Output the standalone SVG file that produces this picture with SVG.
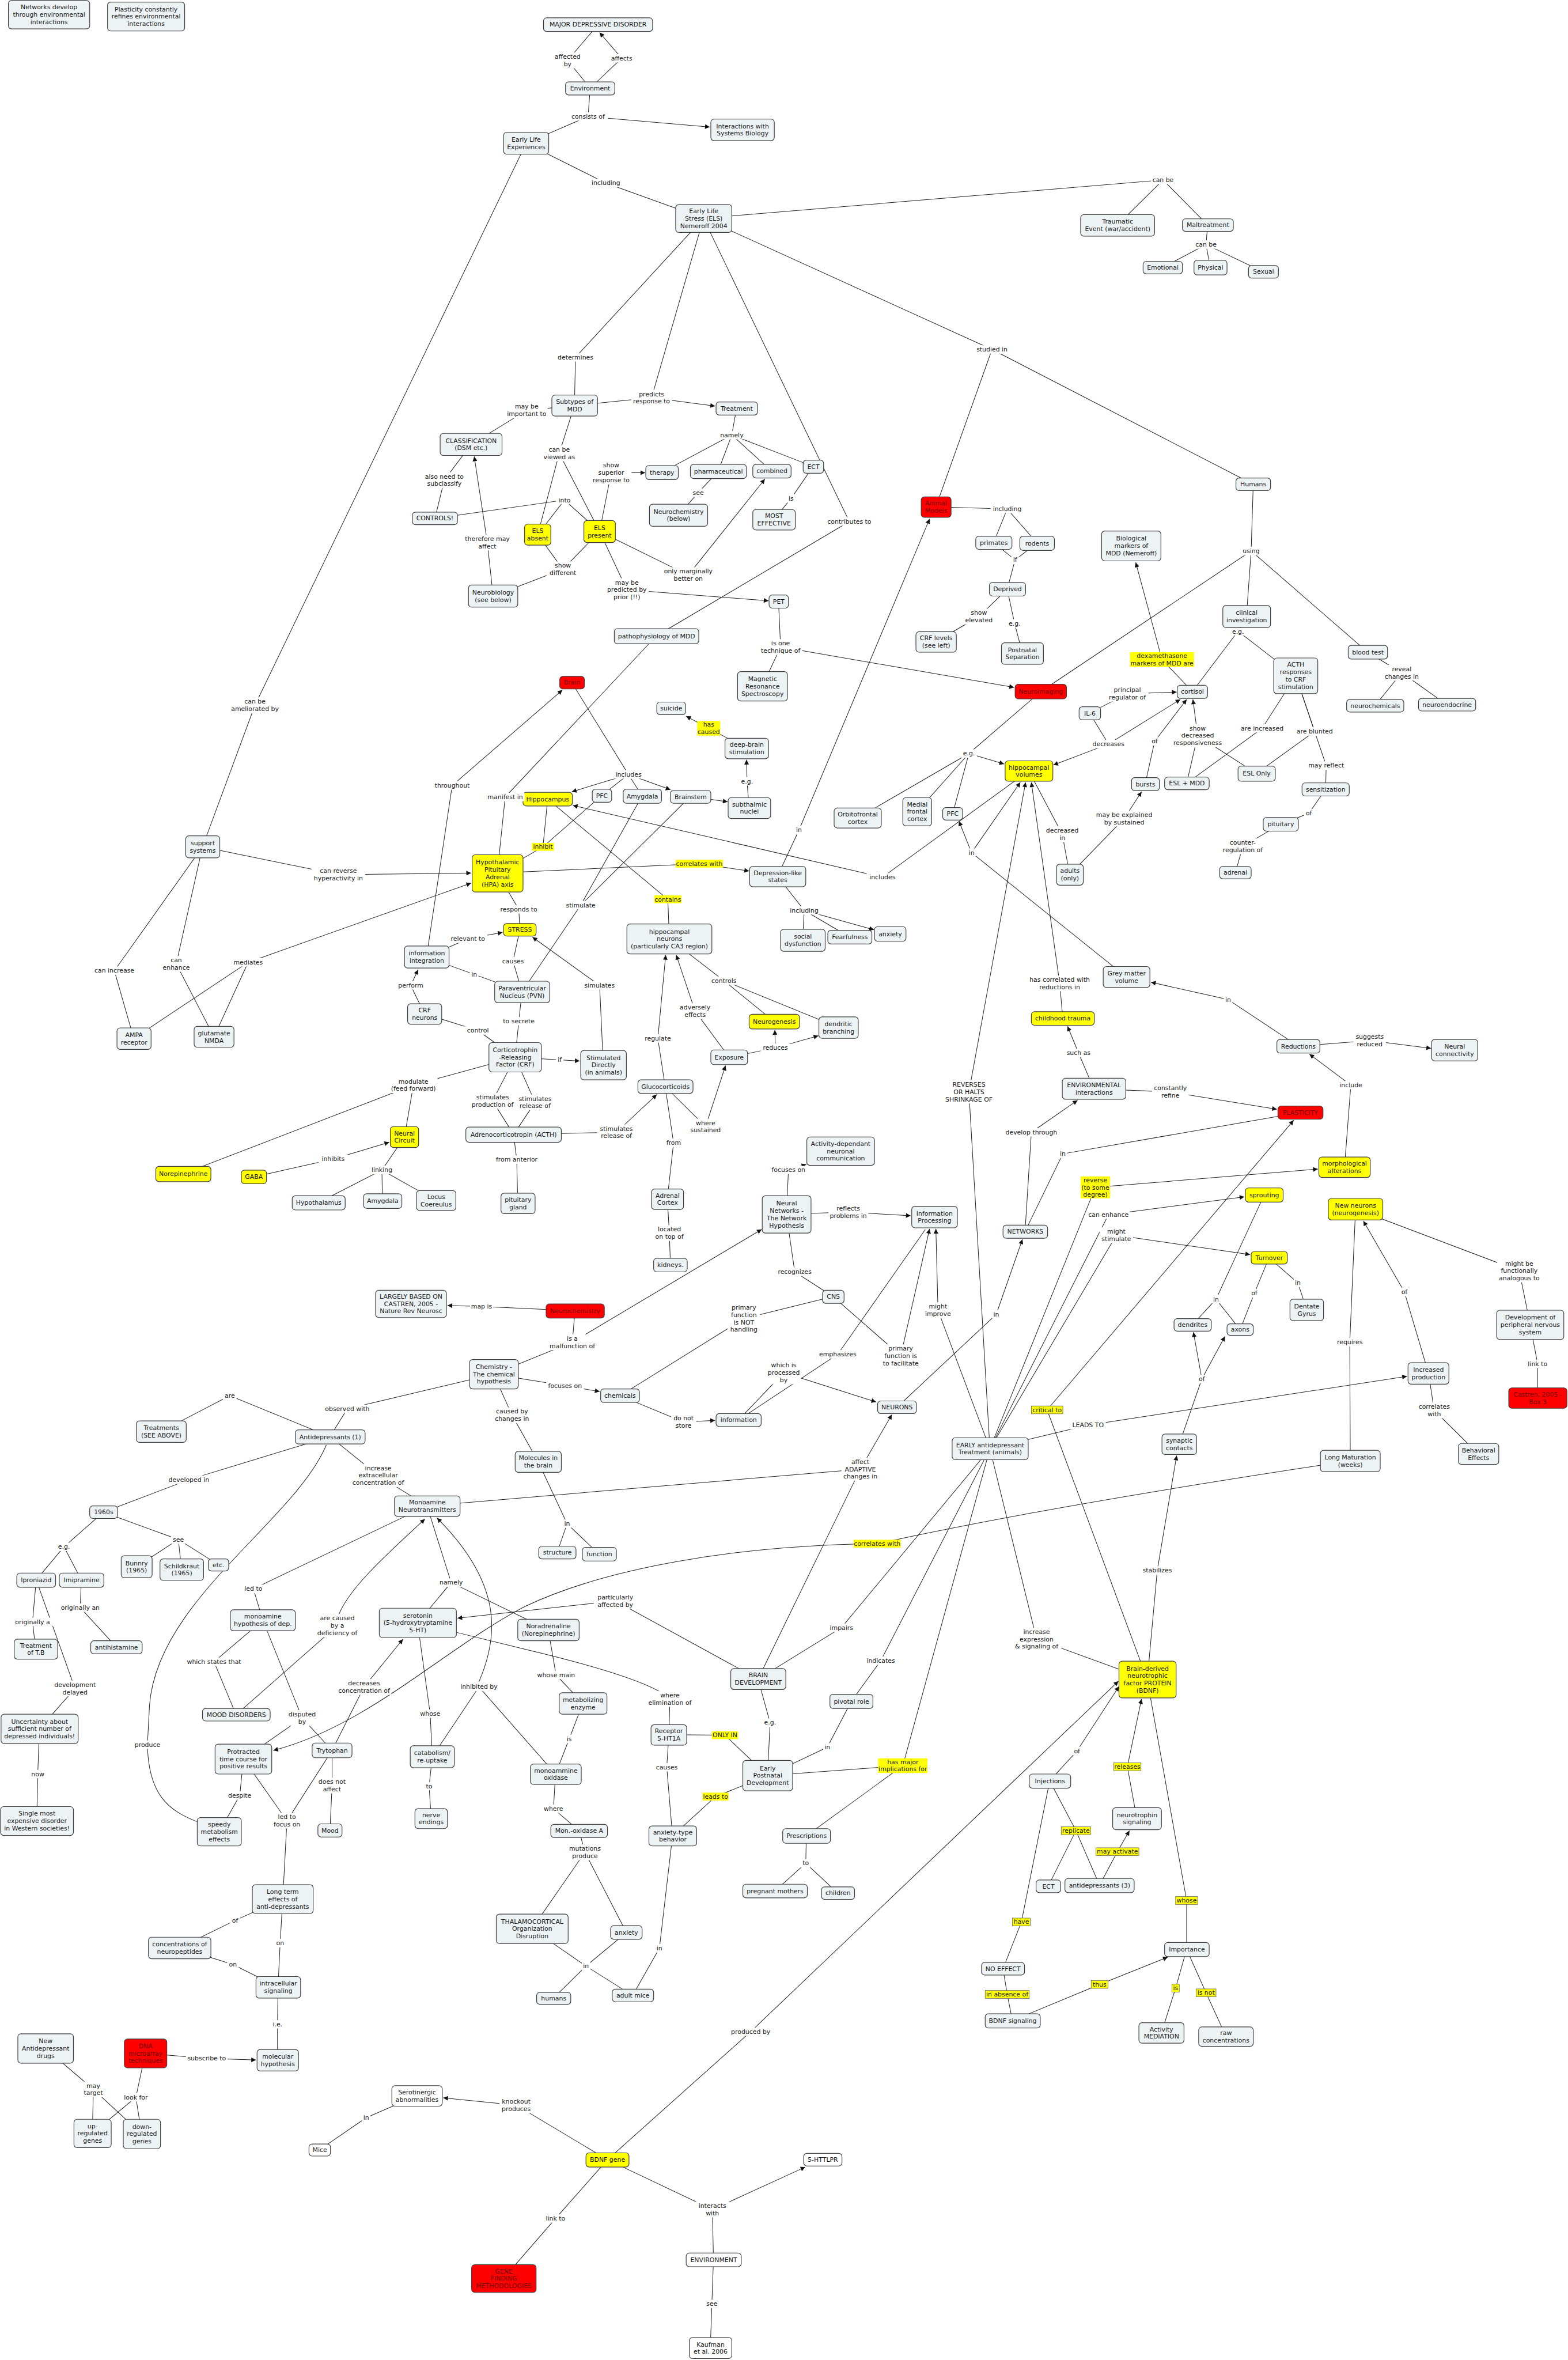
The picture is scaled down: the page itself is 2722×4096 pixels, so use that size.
<svg xmlns="http://www.w3.org/2000/svg" width="2722" height="4096" viewBox="0 0 2722 4096">
<defs>
<marker id="a" viewBox="0 0 10 10" refX="10" refY="5" markerWidth="11" markerHeight="9" markerUnits="userSpaceOnUse" orient="auto"><path d="M0,0L10,5L0,10z" fill="#111"/></marker>
<style>
.c path{stroke:#1e1e1e;stroke-width:1.1;fill:none}
.c .ar{marker-end:url(#a)}
.n rect{fill:#edf3f5;stroke:#3c3c3c;stroke-width:1.3}
.y rect{fill:#ffff00}
.r rect{fill:#ff0000}
.w rect{fill:#ffffff}
text{font-family:"DejaVu Sans",Verdana,sans-serif;font-size:12px;fill:#141414;text-anchor:middle}
.r text{fill:#6e0000}
.l rect{fill:#ffffff}
.ly rect{fill:#ffff00}
.lb rect{fill:#ffff00;stroke:#555;stroke-width:0.8}
</style>
</defs>
<rect width="2722" height="4096" fill="#fff"/>
<g transform="scale(0.91068)">
<g id="connectors" class="c">
<path d="M1140,47L1082,115L1125,168"/>
<path d="M1125,168L1185,111"/><path class="ar" d="M1185,111L1143,62"/>
<path d="M1125,168L1121,222L1003,273"/><path class="ar" d="M1121,222L1353,242"/>
<path d="M1003,273L1155,349L1341,416"/>
<path d="M1341,416L2217,343L2130,429M2217,343L2302,429"/>
<path d="M2302,429L2299,466L2216,510M2299,466L2307,510M2299,466L2408,518"/>
<path d="M1341,416L1097,681L1095,773"/>
<path d="M1341,416L1242,758M1095,773L1242,758"/><path class="ar" d="M1242,758L1363,774"/>
<path d="M1341,416L1619,994L1251,1212"/>
<path d="M1341,416L1891,666L2389,923M1891,666L1784,966"/>
<path d="M1482,1670L1523,1582"/><path class="ar" d="M1523,1582L1772,989"/>
<path d="M1095,773L1066,864L1025,1019M1066,864L1143,1013"/>
<path d="M1095,773L1004,782L898,847"/>
<path d="M898,847L847,915L829,988"/>
<path d="M829,988L1076,953L1025,1019M1076,953L1143,1013"/>
<path d="M1025,1019L1073,1085L940,1136M1143,1013L1073,1085"/>
<path d="M940,1136L929,1034"/><path class="ar" d="M929,1034L904,870"/>
<path d="M1143,1013L1165,901"/><path class="ar" d="M1165,901L1230,901"/>
<path d="M1143,1013L1195,1124"/><path class="ar" d="M1195,1124L1465,1145"/>
<path d="M1143,1013L1312,1096"/><path class="ar" d="M1312,1096L1458,913"/>
<path d="M1404,778L1395,829L1262,900M1395,829L1369,898M1395,829L1471,898M1395,829L1550,889"/>
<path d="M1369,898L1331,939L1293,982"/>
<path d="M1550,889L1508,950L1475,990"/>
<path d="M1784,966L1920,970L1894,1034M1920,970L1977,1035"/>
<path d="M1894,1034L1935,1067L1920,1123M1977,1035L1935,1067"/>
<path d="M1920,1123L1866,1175L1784,1223"/>
<path d="M1920,1123L1934,1188L1949,1245"/>
<path d="M2389,923L2385,1050L1984,1318M2385,1050L2376,1175M2385,1050L2607,1243"/>
<path d="M2376,1175L2360,1203L2273,1318M2360,1203L2470,1288"/>
<path d="M2607,1243L2672,1282L2621,1345M2672,1282L2758,1343"/>
<path d="M2273,1318L2215,1257"/><path class="ar" d="M2215,1257L2165,1072"/>
<path d="M2077,1359L2149,1322"/><path class="ar" d="M2149,1322L2243,1319"/>
<path d="M2077,1359L2113,1418"/><path class="ar" d="M2113,1418L2250,1333"/><path class="ar" d="M2113,1418L2008,1458"/>
<path d="M2183,1494L2201,1413"/><path class="ar" d="M2201,1413L2262,1333"/>
<path d="M2262,1493L2283,1402M2395,1474L2283,1402"/><path class="ar" d="M2283,1402L2274,1333"/>
<path d="M2470,1288L2406,1388L2262,1493"/>
<path d="M2470,1288L2506,1394L2395,1474"/>
<path d="M2470,1288L2528,1459L2527,1504"/>
<path d="M2527,1504L2495,1550L2441,1571"/>
<path d="M2441,1571L2369,1613L2355,1663"/>
<path d="M2039,1667L2143,1560"/><path class="ar" d="M2143,1560L2176,1509"/>
<path d="M1961,1469L2025,1590L2039,1667"/>
<path d="M1484,1146L1488,1233M1453,1308L1488,1233"/><path class="ar" d="M1488,1233L1933,1310"/>
<path d="M1984,1318L1847,1436L1635,1559M1847,1436L1748,1547M1847,1436L1816,1551"/><path class="ar" d="M1847,1436L1914,1456"/>
<path d="M1090,1301L1198,1476L1147,1516M1198,1476L1224,1517"/><path class="ar" d="M1198,1476L1090,1509"/><path class="ar" d="M1198,1476L1278,1505"/>
<path class="ar" d="M1316,1518L1387,1528"/>
<path d="M1428,1540L1424,1489"/><path class="ar" d="M1424,1489L1423,1448"/>
<path d="M1423,1426L1351,1388"/><path class="ar" d="M1351,1388L1308,1365"/>
<path d="M813,1824L862,1497"/><path class="ar" d="M862,1497L1072,1315"/>
<path d="M1251,1212L963,1519L948,1664"/>
<path d="M1044,1523L1035,1614M1147,1516L1035,1614L948,1664"/>
<path d="M948,1664L1333,1646"/><path class="ar" d="M1333,1646L1428,1660"/>
<path d="M1961,1469L1682,1672"/><path class="ar" d="M1682,1672L1092,1535"/>
<path d="M1482,1670L1533,1735L1530,1792M1533,1735L1620,1786"/><path class="ar" d="M1533,1735L1666,1772"/>
<path d="M2147,1862L1852,1625"/><path class="ar" d="M1852,1625L1828,1565"/><path class="ar" d="M1852,1625L1945,1491"/>
<path d="M2475,1994L2341,1905"/><path class="ar" d="M2341,1905L2194,1872"/>
<path d="M2475,1994L2611,1983"/><path class="ar" d="M2611,1983L2728,1998"/>
<path d="M2563,2224L2575,2068"/><path class="ar" d="M2575,2068L2496,2009"/>
<path d="M2026,1941L2020,1874"/><path class="ar" d="M2020,1874L1966,1491"/>
<path d="M2085,2075L2056,2007"/><path class="ar" d="M2056,2007L2035,1956"/>
<path d="M2085,2075L2231,2081"/><path class="ar" d="M2231,2081L2434,2114"/>
<path d="M1954,2347L1966,2158"/><path class="ar" d="M1966,2158L2054,2097"/>
<path d="M1954,2347L2026,2199L2479,2120"/>
<path d="M1887,2761L1847,2081"/><path class="ar" d="M1847,2081L1955,1491"/>
<path d="M1887,2761L1788,2497"/><path class="ar" d="M1788,2497L1784,2342"/>
<path d="M1710,2682L1899,2505"/><path class="ar" d="M1899,2505L1949,2362"/>
<path d="M1887,2761L2088,2263"/><path class="ar" d="M2088,2263L2512,2228"/>
<path d="M1887,2761L2113,2315"/><path class="ar" d="M2113,2315L2372,2281"/>
<path d="M1887,2761L2128,2354"/><path class="ar" d="M2128,2354L2383,2391"/>
<path d="M1887,2761L2074,2716"/><path class="ar" d="M2074,2716L2682,2623"/>
<path d="M2187,3201L1996,2687"/><path class="ar" d="M1996,2687L2466,2135"/>
<path d="M1887,2761L1976,3124L2187,3201"/>
<path d="M1158,4116L1431,3872"/><path class="ar" d="M1431,3872L2132,3204"/>
<path d="M2001,3394L2053,3337"/><path class="ar" d="M2053,3337L2133,3214"/>
<path d="M2167,3466L2149,3367"/><path class="ar" d="M2149,3367L2176,3238"/>
<path d="M2187,3201L2262,3622L2262,3715"/>
<path d="M2187,3201L2206,2993"/><path class="ar" d="M2206,2993L2243,2774"/>
<path d="M2248,2752L2291,2628"/><path class="ar" d="M2291,2628L2275,2539"/><path class="ar" d="M2291,2628L2335,2547"/>
<path d="M2410,2277L2318,2476L2273,2525M2318,2476L2364,2534"/>
<path d="M2419,2397L2391,2465L2364,2534"/>
<path d="M2419,2397L2474,2445L2491,2496"/>
<path d="M2723,2617L2677,2462"/><path class="ar" d="M2677,2462L2599,2327"/>
<path d="M2584,2304L2573,2558L2574,2784"/>
<path d="M2584,2304L2896,2422L2917,2525"/>
<path d="M2917,2525L2931,2599L2931,2664"/>
<path d="M2723,2617L2734,2688L2818,2771"/>
<path d="M2574,2784Q2000,2870 1672,2942"/><path class="ar" d="M1672,2942C1400,2945 1150,2990 1000,3062C850,3140 700,3290 521,3336"/>
<path d="M1887,2761L1604,3102L1445,3200"/>
<path d="M1887,2761L1679,3165L1623,3242"/>
<path d="M1623,3242L1577,3330L1463,3384"/>
<path d="M1887,2761L1721,3365L1537,3499M1463,3384L1721,3365"/>
<path d="M1445,3200L1468,3283L1463,3384"/>
<path d="M1275,3306L1382,3307L1463,3384"/>
<path d="M1463,3384L1364,3424L1282,3499"/>
<path d="M1275,3306L1271,3368L1282,3499"/>
<path d="M1282,3499L1257,3713L1206,3803"/>
<path d="M1537,3499L1536,3551L1477,3604M1536,3551L1597,3608"/>
<path d="M1445,3200L1173,3051"/><path class="ar" d="M1173,3051L872,3084"/>
<path d="M1445,3200L1640,2800M814,2870L1640,2800"/><path class="ar" d="M1640,2800L1700,2696"/>
<path d="M870,3111L1000,3143Q1240,3200 1277,3238L1275,3306"/>
<path d="M796,3093L820,3266L824,3348"/>
<path d="M824,3348L818,3404L822,3466"/>
<path d="M824,3348L913,3215L1059,3381"/><path class="ar" d="M913,3205C950,3120 960,3020 833,2893"/>
<path d="M1045,3106L1060,3192L1111,3246"/>
<path d="M1111,3246L1085,3314L1059,3381"/>
<path d="M1059,3381L1055,3447L1104,3489"/>
<path d="M1104,3489L1115,3530L1014,3676M1115,3530L1194,3683"/>
<path d="M1014,3676L1117,3747L1055,3808M1194,3683L1117,3747L1206,3803"/>
<path d="M814,2870L860,3016L796,3093M860,3016L1045,3106"/>
<path d="M814,2870L483,3028L501,3088"/>
<path d="M501,3088L408,3167L450,3268"/>
<path d="M450,3268L643,3098"/><path class="ar" d="M643,3085C660,3030 740,2960 810,2895"/>
<path d="M501,3088L576,3274L464,3352M576,3274L633,3336"/>
<path d="M633,3336L694,3215"/><path class="ar" d="M694,3215L768,3124"/>
<path d="M464,3352L547,3470L539,3619M633,3336L547,3470"/>
<path d="M633,3336L633,3403L629,3488"/>
<path d="M464,3352L457,3422L418,3491"/>
<path d="M622,2754C560,2900 300,3050 285,3250L281,3325C283,3420 320,3450 376,3472"/>
<path d="M539,3619L448,3660L342,3712"/>
<path d="M539,3619L534,3703L530,3787"/>
<path d="M342,3712L444,3744L530,3787"/>
<path d="M530,3787L529,3858L529,3926"/>
<path d="M277,3913L394,3923"/><path class="ar" d="M394,3923L488,3926"/>
<path d="M277,3913L259,3997L176,4066M259,3997L270,4067"/>
<path d="M87,3904L178,3982L176,4066M178,3982L270,4067"/>
<path d="M795,3994L698,4036L609,4097"/>
<path d="M1158,4116L984,4012"/><path class="ar" d="M984,4012L845,3998"/>
<path d="M1158,4116L1059,4228L960,4342"/>
<path d="M1158,4116L1358,4211L1360,4307"/><path class="ar" d="M1358,4211L1535,4130"/>
<path d="M1360,4307L1357,4391L1354,4475"/>
<path d="M2001,3394L2051,3489L1998,3595M2051,3489L2096,3593"/>
<path d="M2096,3593L2130,3529"/><path class="ar" d="M2130,3529L2153,3489"/>
<path d="M2001,3394L1947,3663L1912,3752"/>
<path d="M1912,3752L1920,3801L1930,3851"/>
<path d="M1930,3851L2096,3782"/><path class="ar" d="M2096,3782L2226,3730"/>
<path d="M2262,3715L2241,3789L2214,3874M2262,3715L2299,3798L2337,3881"/>
<path d="M941,2619L662,2685L629,2738"/>
<path d="M629,2738L438,2660L307,2728"/>
<path d="M629,2738L360,2820L197,2882"/>
<path d="M629,2738L721,2812L814,2870"/>
<path d="M197,2882L122,2948L69,3011M122,2948L155,3011"/>
<path d="M197,2882L340,2934L260,2986M340,2934L346,2991M340,2934L416,2982"/>
<path d="M69,3011L62,3091L68,3143"/>
<path d="M69,3011L143,3218L75,3295"/>
<path d="M155,3011L153,3064L222,3139"/>
<path d="M75,3295L72,3381L70,3470"/>
<path d="M941,2619L976,2697L1026,2786"/>
<path d="M1026,2786L1081,2904L1062,2959M1081,2904L1142,2962"/>
<path d="M941,2619L1077,2641"/><path class="ar" d="M1077,2641L1143,2652"/>
<path d="M1096,2498L918,2490"/><path class="ar" d="M918,2490L853,2488"/>
<path d="M1096,2498L1091,2558L941,2619"/><path class="ar" d="M1091,2558L1452,2343"/>
<path d="M1499,2314L1617,2310"/><path class="ar" d="M1617,2310L1736,2317"/>
<path d="M1499,2314L1515,2424L1588,2471"/>
<path d="M1588,2471L1418,2513L1182,2660"/>
<path d="M1588,2471L1717,2584"/><path class="ar" d="M1717,2584L1772,2342"/>
<path d="M1408,2706L1597,2581L1764,2343"/>
<path d="M1408,2706L1494,2616"/><path class="ar" d="M1494,2616L1670,2672"/>
<path d="M1182,2660L1303,2710"/><path class="ar" d="M1303,2710L1363,2707"/>
<path d="M1499,2314L1503,2230"/><path class="ar" d="M1503,2230L1537,2219"/>
<path d="M1268,2071L1284,2178L1272,2285"/>
<path d="M1272,2285L1276,2350L1278,2411"/>
<path d="M979,2162L1175,2158"/><path class="ar" d="M1175,2158L1252,2086"/>
<path d="M1268,2071L1254,1979"/><path class="ar" d="M1254,1979L1269,1820"/>
<path d="M1268,2071L1345,2147"/><path class="ar" d="M1345,2147L1383,2031"/>
<path d="M1390,2015L1325,1927"/><path class="ar" d="M1325,1927L1289,1820"/>
<path d="M1390,2015L1478,1997"/><path class="ar" d="M1478,1997L1477,1963"/><path class="ar" d="M1478,1997L1560,1974"/>
<path d="M1276,1789L1380,1869L1476,1947M1380,1869L1598,1958"/>
<path d="M1044,1523L1273,1714L1276,1789"/>
<path d="M1224,1517L1107,1725L995,1890M1316,1518L1107,1725"/>
<path d="M1150,2030L1143,1878"/><path class="ar" d="M1143,1878L1015,1786"/>
<path d="M982,2015L1067,2020"/><path class="ar" d="M1067,2020L1105,2022"/>
<path d="M948,1664L989,1733L991,1772"/>
<path d="M991,1772L978,1832L995,1890"/>
<path d="M995,1890L989,1946L982,2015"/>
<path d="M809,1932L911,1964L982,2015"/>
<path d="M809,1932L783,1878"/><path class="ar" d="M783,1878L797,1848"/>
<path d="M813,1824L892,1789"/><path class="ar" d="M892,1789L958,1777"/>
<path d="M813,1824L904,1857L995,1890"/>
<path d="M982,2015L939,2098L979,2162M982,2015L1020,2101L979,2162"/>
<path d="M982,2015L788,2068L349,2237M788,2068L771,2167"/>
<path d="M484,2243L635,2209"/><path class="ar" d="M635,2209L742,2177"/>
<path d="M771,2167L728,2230L607,2292M728,2230L729,2289M728,2230L831,2288"/>
<path d="M979,2162L985,2210L987,2293"/>
<path d="M386,1614L645,1667"/><path class="ar" d="M645,1667L898,1664"/>
<path d="M386,1614L218,1850L255,1979"/>
<path d="M386,1614L336,1837L408,1976"/>
<path d="M255,1979L473,1834M408,1976L473,1834"/><path class="ar" d="M473,1834L898,1683"/>
<path d="M1003,273L486,1344L386,1614"/>
</g>
<g id="nodes">
<g id="nwd" class="n" transform="translate(93.5 28)"><rect x="-77.5" y="-27" width="155" height="54" rx="6"/><text><tspan x="0" y="-10">Networks develop</tspan><tspan x="0" y="4">through environmental</tspan><tspan x="0" y="18">interactions</tspan></text></g>
<g id="pcr" class="n" transform="translate(278.5 31.5)"><rect x="-73.5" y="-27.5" width="147" height="55" rx="6"/><text><tspan x="0" y="-10">Plasticity constantly</tspan><tspan x="0" y="4">refines environmental</tspan><tspan x="0" y="18">interactions</tspan></text></g>
<g id="mdd" class="n" transform="translate(1140 47)"><rect x="-104" y="-13" width="208" height="26" rx="6"/><text y="4">MAJOR DEPRESSIVE DISORDER</text></g>
<g id="env" class="n" transform="translate(1125 168.5)"><rect x="-47" y="-12.5" width="94" height="25" rx="6"/><text y="4">Environment</text></g>
<g id="ele" class="n" transform="translate(1003 273)"><rect x="-43" y="-21" width="86" height="42" rx="6"/><text><tspan x="0" y="-3">Early Life</tspan><tspan x="0" y="11">Experiences</tspan></text></g>
<g id="isb" class="n" transform="translate(1415.5 247.5)"><rect x="-60.5" y="-20.5" width="121" height="41" rx="6"/><text><tspan x="0" y="-3">Interactions with</tspan><tspan x="0" y="11">Systems Biology</tspan></text></g>
<g id="els" class="n" transform="translate(1341.5 416.5)"><rect x="-53.5" y="-26.5" width="107" height="53" rx="6"/><text><tspan x="0" y="-10">Early Life</tspan><tspan x="0" y="4">Stress (ELS)</tspan><tspan x="0" y="18">Nemeroff 2004</tspan></text></g>
<g id="tra" class="n" transform="translate(2130.5 429.5)"><rect x="-70.5" y="-20.5" width="141" height="41" rx="6"/><text><tspan x="0" y="-3">Traumatic</tspan><tspan x="0" y="11">Event (war/accident)</tspan></text></g>
<g id="mal" class="n" transform="translate(2302.5 429)"><rect x="-48.5" y="-12" width="97" height="24" rx="6"/><text y="4">Maltreatment</text></g>
<g id="emo" class="n" transform="translate(2216.5 510)"><rect x="-37.5" y="-12" width="75" height="24" rx="6"/><text y="4">Emotional</text></g>
<g id="phy" class="n" transform="translate(2307.5 510)"><rect x="-31.5" y="-14" width="63" height="28" rx="6"/><text y="4">Physical</text></g>
<g id="sex" class="n" transform="translate(2408.5 518)"><rect x="-28.5" y="-12" width="57" height="24" rx="6"/><text y="4">Sexual</text></g>
<g id="sub" class="n" transform="translate(1095.5 773)"><rect x="-43.5" y="-20" width="87" height="40" rx="6"/><text><tspan x="0" y="-3">Subtypes of</tspan><tspan x="0" y="11">MDD</tspan></text></g>
<g id="trt" class="n" transform="translate(1404.5 778.5)"><rect x="-39.5" y="-12.5" width="79" height="25" rx="6"/><text y="4">Treatment</text></g>
<g id="ther" class="n" transform="translate(1262 900.5)"><rect x="-31" y="-13.5" width="62" height="27" rx="6"/><text y="4">therapy</text></g>
<g id="pha" class="n" transform="translate(1369.5 898.5)"><rect x="-53.5" y="-13.5" width="107" height="27" rx="6"/><text y="4">pharmaceutical</text></g>
<g id="com" class="n" transform="translate(1471.5 898)"><rect x="-36.5" y="-13" width="73" height="26" rx="6"/><text y="4">combined</text></g>
<g id="ect" class="n" transform="translate(1550.5 889.5)"><rect x="-19.5" y="-12.5" width="39" height="25" rx="6"/><text y="4">ECT</text></g>
<g id="nch" class="n" transform="translate(1293.5 982)"><rect x="-55.5" y="-21" width="111" height="42" rx="6"/><text><tspan x="0" y="-3">Neurochemistry</tspan><tspan x="0" y="11">(below)</tspan></text></g>
<g id="mef" class="n" transform="translate(1475.5 990.5)"><rect x="-40.5" y="-19.5" width="81" height="39" rx="6"/><text><tspan x="0" y="-3">MOST</tspan><tspan x="0" y="11">EFFECTIVE</tspan></text></g>
<g id="cls" class="n" transform="translate(898 847)"><rect x="-59" y="-21" width="118" height="42" rx="6"/><text><tspan x="0" y="-3">CLASSIFICATION</tspan><tspan x="0" y="11">(DSM etc.)</tspan></text></g>
<g id="ctl" class="n" transform="translate(829 988)"><rect x="-43" y="-12" width="86" height="24" rx="6"/><text y="4">CONTROLS!</text></g>
<g id="elsa" class="n y" transform="translate(1025 1019)"><rect x="-25" y="-20" width="50" height="40" rx="6"/><text><tspan x="0" y="-3">ELS</tspan><tspan x="0" y="11">absent</tspan></text></g>
<g id="elsp" class="n y" transform="translate(1143 1013)"><rect x="-30" y="-21" width="60" height="42" rx="6"/><text><tspan x="0" y="-3">ELS</tspan><tspan x="0" y="11">present</tspan></text></g>
<g id="nbio" class="n" transform="translate(940 1136)"><rect x="-47" y="-21" width="94" height="42" rx="6"/><text><tspan x="0" y="-3">Neurobiology</tspan><tspan x="0" y="11">(see below)</tspan></text></g>
<g id="anim" class="n r" transform="translate(1784.5 966.5)"><rect x="-28.5" y="-19.5" width="57" height="39" rx="6"/><text><tspan x="0" y="-3">Animal</tspan><tspan x="0" y="11">Models</tspan></text></g>
<g id="pri" class="n" transform="translate(1894.5 1034.5)"><rect x="-34.5" y="-12.5" width="69" height="25" rx="6"/><text y="4">primates</text></g>
<g id="rod" class="n" transform="translate(1977 1035.5)"><rect x="-33" y="-13.5" width="66" height="27" rx="6"/><text y="4">rodents</text></g>
<g id="dep" class="n" transform="translate(1920.5 1123)"><rect x="-34.5" y="-13" width="69" height="26" rx="6"/><text y="4">Deprived</text></g>
<g id="crfl" class="n" transform="translate(1784.5 1223.5)"><rect x="-38.5" y="-19.5" width="77" height="39" rx="6"/><text><tspan x="0" y="-3">CRF levels</tspan><tspan x="0" y="11">(see left)</tspan></text></g>
<g id="pns" class="n" transform="translate(1949 1245.5)"><rect x="-40" y="-20.5" width="80" height="41" rx="6"/><text><tspan x="0" y="-3">Postnatal</tspan><tspan x="0" y="11">Separation</tspan></text></g>
<g id="hum" class="n" transform="translate(2389 923)"><rect x="-33" y="-12" width="66" height="24" rx="6"/><text y="4">Humans</text></g>
<g id="bio" class="n" transform="translate(2156.5 1040.5)"><rect x="-56.5" y="-28.5" width="113" height="57" rx="6"/><text><tspan x="0" y="-10">Biological</tspan><tspan x="0" y="4">markers of</tspan><tspan x="0" y="18">MDD (Nemeroff)</tspan></text></g>
<g id="cli" class="n" transform="translate(2376.5 1175)"><rect x="-45.5" y="-21" width="91" height="42" rx="6"/><text><tspan x="0" y="-3">clinical</tspan><tspan x="0" y="11">investigation</tspan></text></g>
<g id="bld" class="n" transform="translate(2607.5 1243)"><rect x="-37.5" y="-13" width="75" height="26" rx="6"/><text y="4">blood test</text></g>
<g id="nchm" class="n" transform="translate(2621.5 1345)"><rect x="-54.5" y="-12" width="109" height="24" rx="6"/><text y="4">neurochemicals</text></g>
<g id="nend" class="n" transform="translate(2758.5 1343)"><rect x="-54.5" y="-12" width="109" height="24" rx="6"/><text y="4">neuroendocrine</text></g>
<g id="acth2" class="n" transform="translate(2470 1288)"><rect x="-42" y="-34" width="84" height="68" rx="6"/><text><tspan x="0" y="-17">ACTH</tspan><tspan x="0" y="-3">responses</tspan><tspan x="0" y="11">to CRF</tspan><tspan x="0" y="25">stimulation</tspan></text></g>
<g id="cort" class="n" transform="translate(2273 1318.5)"><rect x="-29" y="-12.5" width="58" height="25" rx="6"/><text y="4">cortisol</text></g>
<g id="nim" class="n r" transform="translate(1984 1318)"><rect x="-49" y="-14" width="98" height="28" rx="6"/><text y="4">Neuroimaging</text></g>
<g id="il6" class="n" transform="translate(2077.5 1359.5)"><rect x="-20.5" y="-12.5" width="41" height="25" rx="6"/><text y="4">IL-6</text></g>
<g id="bur" class="n" transform="translate(2183.5 1494.5)"><rect x="-26.5" y="-12.5" width="53" height="25" rx="6"/><text y="4">bursts</text></g>
<g id="eslm" class="n" transform="translate(2262.5 1493)"><rect x="-42.5" y="-12" width="85" height="24" rx="6"/><text y="4">ESL + MDD</text></g>
<g id="eslo" class="n" transform="translate(2395.5 1474.5)"><rect x="-35.5" y="-14.5" width="71" height="29" rx="6"/><text y="4">ESL Only</text></g>
<g id="sens" class="n" transform="translate(2527 1504.5)"><rect x="-45" y="-12.5" width="90" height="25" rx="6"/><text y="4">sensitization</text></g>
<g id="pit" class="n" transform="translate(2441.5 1571)"><rect x="-33.5" y="-13" width="67" height="26" rx="6"/><text y="4">pituitary</text></g>
<g id="adr" class="n" transform="translate(2355 1663)"><rect x="-30" y="-12" width="60" height="24" rx="6"/><text y="4">adrenal</text></g>
<g id="adu" class="n" transform="translate(2039.5 1667)"><rect x="-25.5" y="-20" width="51" height="40" rx="6"/><text><tspan x="0" y="-3">adults</tspan><tspan x="0" y="11">(only)</tspan></text></g>
<g id="hvol" class="n y" transform="translate(1961.5 1469.5)"><rect x="-45.5" y="-19.5" width="91" height="39" rx="6"/><text><tspan x="0" y="-3">hippocampal</tspan><tspan x="0" y="11">volumes</tspan></text></g>
<g id="pet" class="n" transform="translate(1484.5 1146.5)"><rect x="-18.5" y="-12.5" width="37" height="25" rx="6"/><text y="4">PET</text></g>
<g id="path" class="n" transform="translate(1251.5 1212.5)"><rect x="-80.5" y="-14.5" width="161" height="29" rx="6"/><text y="4">pathophysiology of MDD</text></g>
<g id="mrs" class="n" transform="translate(1453.5 1308)"><rect x="-47.5" y="-28" width="95" height="56" rx="6"/><text><tspan x="0" y="-10">Magnetic</tspan><tspan x="0" y="4">Resonance</tspan><tspan x="0" y="18">Spectroscopy</tspan></text></g>
<g id="brain" class="n r" transform="translate(1090.5 1301)"><rect x="-23.5" y="-12" width="47" height="24" rx="6"/><text y="4">Brain</text></g>
<g id="sui" class="n" transform="translate(1279.5 1350)"><rect x="-27.5" y="-12" width="55" height="24" rx="6"/><text y="4">suicide</text></g>
<g id="dbs" class="n" transform="translate(1423.5 1426.5)"><rect x="-41.5" y="-19.5" width="83" height="39" rx="6"/><text><tspan x="0" y="-3">deep-brain</tspan><tspan x="0" y="11">stimulation</tspan></text></g>
<g id="stn" class="n" transform="translate(1428.5 1540)"><rect x="-40.5" y="-20" width="81" height="40" rx="6"/><text><tspan x="0" y="-3">subthalmic</tspan><tspan x="0" y="11">nuclei</tspan></text></g>
<g id="bst" class="n" transform="translate(1316.5 1518.5)"><rect x="-38.5" y="-12.5" width="77" height="25" rx="6"/><text y="4">Brainstem</text></g>
<g id="amy" class="n" transform="translate(1224.5 1517.5)"><rect x="-36.5" y="-13.5" width="73" height="27" rx="6"/><text y="4">Amygdala</text></g>
<g id="pfc" class="n" transform="translate(1147.5 1516.5)"><rect x="-18.5" y="-12.5" width="37" height="25" rx="6"/><text y="4">PFC</text></g>
<g id="hip" class="n y" transform="translate(1044 1523)"><rect x="-47" y="-13" width="94" height="26" rx="6"/><text y="4">Hippocampus</text></g>
<g id="dls" class="n" transform="translate(1482.5 1670.5)"><rect x="-53.5" y="-19.5" width="107" height="39" rx="6"/><text><tspan x="0" y="-3">Depression-like</tspan><tspan x="0" y="11">states</tspan></text></g>
<g id="soc" class="n" transform="translate(1530.5 1792)"><rect x="-42.5" y="-21" width="85" height="42" rx="6"/><text><tspan x="0" y="-3">social</tspan><tspan x="0" y="11">dysfunction</tspan></text></g>
<g id="fear" class="n" transform="translate(1620 1786)"><rect x="-42" y="-13" width="84" height="26" rx="6"/><text y="4">Fearfulness</text></g>
<g id="anx" class="n" transform="translate(1697 1780)"><rect x="-30" y="-14" width="60" height="28" rx="6"/><text y="4">anxiety</text></g>
<g id="ofc" class="n" transform="translate(1635 1559)"><rect x="-45" y="-19" width="90" height="38" rx="6"/><text><tspan x="0" y="-3">Orbitofrontal</tspan><tspan x="0" y="11">cortex</tspan></text></g>
<g id="mfc" class="n" transform="translate(1748.5 1547)"><rect x="-27.5" y="-27" width="55" height="54" rx="6"/><text><tspan x="0" y="-10">Medial</tspan><tspan x="0" y="4">frontal</tspan><tspan x="0" y="18">cortex</tspan></text></g>
<g id="pfc2" class="n" transform="translate(1816 1551)"><rect x="-19" y="-12" width="38" height="24" rx="6"/><text y="4">PFC</text></g>
<g id="hcn" class="n" transform="translate(1276 1789.5)"><rect x="-81" y="-28.5" width="162" height="57" rx="6"/><text><tspan x="0" y="-10">hippocampal</tspan><tspan x="0" y="4">neurons</tspan><tspan x="0" y="18">(particularly CA3 region)</tspan></text></g>
<g id="neu" class="n y" transform="translate(1476 1947)"><rect x="-48" y="-14" width="96" height="28" rx="6"/><text y="4">Neurogenesis</text></g>
<g id="dbr" class="n" transform="translate(1598.5 1958.5)"><rect x="-37.5" y="-20.5" width="75" height="41" rx="6"/><text><tspan x="0" y="-3">dendritic</tspan><tspan x="0" y="11">branching</tspan></text></g>
<g id="exp" class="n" transform="translate(1390 2015)"><rect x="-35" y="-14" width="70" height="28" rx="6"/><text y="4">Exposure</text></g>
<g id="sdir" class="n" transform="translate(1150.5 2030)"><rect x="-43.5" y="-28" width="87" height="56" rx="6"/><text><tspan x="0" y="-10">Stimulated</tspan><tspan x="0" y="4">Directly</tspan><tspan x="0" y="18">(in animals)</tspan></text></g>
<g id="glu" class="n" transform="translate(1268.5 2071)"><rect x="-52.5" y="-13" width="105" height="26" rx="6"/><text y="4">Glucocorticoids</text></g>
<g id="acth" class="n" transform="translate(979 2162.5)"><rect x="-91" y="-14.5" width="182" height="29" rx="6"/><text y="4">Adrenocorticotropin (ACTH)</text></g>
<g id="adn" class="n" transform="translate(1602.5 2194)"><rect x="-64.5" y="-27" width="129" height="54" rx="6"/><text><tspan x="0" y="-10">Activity-dependant</tspan><tspan x="0" y="4">neuronal</tspan><tspan x="0" y="18">communication</tspan></text></g>
<g id="gmv" class="n" transform="translate(2147.5 1862)"><rect x="-44.5" y="-20" width="89" height="40" rx="6"/><text><tspan x="0" y="-3">Grey matter</tspan><tspan x="0" y="11">volume</tspan></text></g>
<g id="red" class="n" transform="translate(2475 1994)"><rect x="-41" y="-13" width="82" height="26" rx="6"/><text y="4">Reductions</text></g>
<g id="ncon" class="n" transform="translate(2773 2001.5)"><rect x="-44" y="-20.5" width="88" height="41" rx="6"/><text><tspan x="0" y="-3">Neural</tspan><tspan x="0" y="11">connectivity</tspan></text></g>
<g id="cht" class="n y" transform="translate(2026 1941)"><rect x="-60" y="-13" width="120" height="26" rx="6"/><text y="4">childhood trauma</text></g>
<g id="envi" class="n" transform="translate(2085.5 2075)"><rect x="-60.5" y="-20" width="121" height="40" rx="6"/><text><tspan x="0" y="-3">ENVIRONMENTAL</tspan><tspan x="0" y="11">interactions</tspan></text></g>
<g id="plas" class="n r" transform="translate(2479 2120.5)"><rect x="-43" y="-12.5" width="86" height="25" rx="6"/><text y="4">PLASTICITY</text></g>
<g id="morph" class="n y" transform="translate(2563 2224.5)"><rect x="-49" y="-19.5" width="98" height="39" rx="6"/><text><tspan x="0" y="-3">morphological</tspan><tspan x="0" y="11">alterations</tspan></text></g>
<g id="sup" class="n" transform="translate(386.5 1614)"><rect x="-32.5" y="-21" width="65" height="42" rx="6"/><text><tspan x="0" y="-3">support</tspan><tspan x="0" y="11">systems</tspan></text></g>
<g id="hpa" class="n y" transform="translate(948.5 1664.5)"><rect x="-48.5" y="-35.5" width="97" height="71" rx="6"/><text><tspan x="0" y="-17">Hypothalamic</tspan><tspan x="0" y="-3">Pituitary</tspan><tspan x="0" y="11">Adrenal</tspan><tspan x="0" y="25">(HPA) axis</tspan></text></g>
<g id="str" class="n y" transform="translate(991 1772)"><rect x="-31" y="-12" width="62" height="24" rx="6"/><text y="4">STRESS</text></g>
<g id="inf" class="n" transform="translate(813.5 1824)"><rect x="-42.5" y="-21" width="85" height="42" rx="6"/><text><tspan x="0" y="-3">information</tspan><tspan x="0" y="11">integration</tspan></text></g>
<g id="pvn" class="n" transform="translate(995.5 1890.5)"><rect x="-52.5" y="-20.5" width="105" height="41" rx="6"/><text><tspan x="0" y="-3">Paraventricular</tspan><tspan x="0" y="11">Nucleus (PVN)</tspan></text></g>
<g id="crfn" class="n" transform="translate(809.5 1932.5)"><rect x="-32.5" y="-19.5" width="65" height="39" rx="6"/><text><tspan x="0" y="-3">CRF</tspan><tspan x="0" y="11">neurons</tspan></text></g>
<g id="crf" class="n" transform="translate(982 2015)"><rect x="-50" y="-28" width="100" height="56" rx="6"/><text><tspan x="0" y="-10">Corticotrophin</tspan><tspan x="0" y="4">-Releasing</tspan><tspan x="0" y="18">Factor (CRF)</tspan></text></g>
<g id="ncir" class="n y" transform="translate(771 2167)"><rect x="-27" y="-20" width="54" height="40" rx="6"/><text><tspan x="0" y="-3">Neural</tspan><tspan x="0" y="11">Circuit</tspan></text></g>
<g id="nor" class="n y" transform="translate(349.5 2237.5)"><rect x="-52.5" y="-14.5" width="105" height="29" rx="6"/><text y="4">Norepinephrine</text></g>
<g id="gaba" class="n y" transform="translate(484 2243)"><rect x="-24" y="-13" width="48" height="26" rx="6"/><text y="4">GABA</text></g>
<g id="ampa" class="n" transform="translate(255.5 1979.5)"><rect x="-32.5" y="-20.5" width="65" height="41" rx="6"/><text><tspan x="0" y="-3">AMPA</tspan><tspan x="0" y="11">receptor</tspan></text></g>
<g id="glut" class="n" transform="translate(408 1976)"><rect x="-38" y="-20" width="76" height="40" rx="6"/><text><tspan x="0" y="-3">glutamate</tspan><tspan x="0" y="11">NMDA</tspan></text></g>
<g id="hyp" class="n" transform="translate(607.5 2292.5)"><rect x="-50.5" y="-13.5" width="101" height="27" rx="6"/><text y="4">Hypothalamus</text></g>
<g id="amy2" class="n" transform="translate(729.5 2289)"><rect x="-36.5" y="-14" width="73" height="28" rx="6"/><text y="4">Amygdala</text></g>
<g id="lc" class="n" transform="translate(831.5 2288)"><rect x="-37.5" y="-19" width="75" height="38" rx="6"/><text><tspan x="0" y="-3">Locus</tspan><tspan x="0" y="11">Coereulus</tspan></text></g>
<g id="pg" class="n" transform="translate(987.5 2293.5)"><rect x="-32.5" y="-19.5" width="65" height="39" rx="6"/><text><tspan x="0" y="-3">pituitary</tspan><tspan x="0" y="11">gland</tspan></text></g>
<g id="lar" class="n" transform="translate(783.5 2485)"><rect x="-67.5" y="-26" width="135" height="52" rx="6"/><text><tspan x="0" y="-10">LARGELY BASED ON</tspan><tspan x="0" y="4">CASTREN, 2005 -</tspan><tspan x="0" y="18">Nature Rev Neurosc</tspan></text></g>
<g id="nchem" class="n r" transform="translate(1096.5 2498.5)"><rect x="-55.5" y="-13.5" width="111" height="27" rx="6"/><text y="4">Neurochemistry</text></g>
<g id="chem" class="n" transform="translate(941.5 2619)"><rect x="-46.5" y="-28" width="93" height="56" rx="6"/><text><tspan x="0" y="-10">Chemistry -</tspan><tspan x="0" y="4">The chemical</tspan><tspan x="0" y="18">hypothesis</tspan></text></g>
<g id="trts" class="n" transform="translate(307.5 2728.5)"><rect x="-47.5" y="-20.5" width="95" height="41" rx="6"/><text><tspan x="0" y="-3">Treatments</tspan><tspan x="0" y="11">(SEE ABOVE)</tspan></text></g>
<g id="ad1" class="n" transform="translate(629.5 2738.5)"><rect x="-66.5" y="-13.5" width="133" height="27" rx="6"/><text y="4">Antidepressants (1)</text></g>
<g id="mol" class="n" transform="translate(1026 2786)"><rect x="-44" y="-20" width="88" height="40" rx="6"/><text><tspan x="0" y="-3">Molecules in</tspan><tspan x="0" y="11">the brain</tspan></text></g>
<g id="stru" class="n" transform="translate(1062.5 2959)"><rect x="-35.5" y="-12" width="71" height="24" rx="6"/><text y="4">structure</text></g>
<g id="func" class="n" transform="translate(1142.5 2962)"><rect x="-32.5" y="-13" width="65" height="26" rx="6"/><text y="4">function</text></g>
<g id="mono" class="n" transform="translate(814.5 2870.5)"><rect x="-62.5" y="-19.5" width="125" height="39" rx="6"/><text><tspan x="0" y="-3">Monoamine</tspan><tspan x="0" y="11">Neurotransmitters</tspan></text></g>
<g id="s60" class="n" transform="translate(197.5 2882)"><rect x="-26.5" y="-12" width="53" height="24" rx="6"/><text y="4">1960s</text></g>
<g id="bun" class="n" transform="translate(260.5 2986)"><rect x="-29.5" y="-21" width="59" height="42" rx="6"/><text><tspan x="0" y="-3">Bunnry</tspan><tspan x="0" y="11">(1965)</tspan></text></g>
<g id="sch" class="n" transform="translate(346.5 2991.5)"><rect x="-41.5" y="-20.5" width="83" height="41" rx="6"/><text><tspan x="0" y="-3">Schildkraut</tspan><tspan x="0" y="11">(1965)</tspan></text></g>
<g id="etc" class="n" transform="translate(416.5 2982.5)"><rect x="-19.5" y="-11.5" width="39" height="23" rx="6"/><text y="4">etc.</text></g>
<g id="ipr" class="n" transform="translate(69 3011.5)"><rect x="-37" y="-13.5" width="74" height="27" rx="6"/><text y="4">Iproniazid</text></g>
<g id="imi" class="n" transform="translate(155.5 3011.5)"><rect x="-42.5" y="-13.5" width="85" height="27" rx="6"/><text y="4">Imipramine</text></g>
<g id="ttb" class="n" transform="translate(68.5 3143)"><rect x="-41.5" y="-19" width="83" height="38" rx="6"/><text><tspan x="0" y="-3">Treatment</tspan><tspan x="0" y="11">of T.B</tspan></text></g>
<g id="ahi" class="n" transform="translate(222 3139.5)"><rect x="-49" y="-12.5" width="98" height="25" rx="6"/><text y="4">antihistamine</text></g>
<g id="mhyp" class="n" transform="translate(501 3088)"><rect x="-62" y="-20" width="124" height="40" rx="6"/><text><tspan x="0" y="-3">monoamine</tspan><tspan x="0" y="11">hypothesis of dep.</tspan></text></g>
<g id="ser" class="n" transform="translate(796.5 3093)"><rect x="-73.5" y="-28" width="147" height="56" rx="6"/><text><tspan x="0" y="-10">serotonin</tspan><tspan x="0" y="4">(5-hydroxytryptamine</tspan><tspan x="0" y="18">5-HT)</tspan></text></g>
<g id="unc" class="n" transform="translate(75.5 3295)"><rect x="-73.5" y="-28" width="147" height="56" rx="6"/><text><tspan x="0" y="-10">Uncertainty about</tspan><tspan x="0" y="4">sufficient number of</tspan><tspan x="0" y="18">depressed individuals!</tspan></text></g>
<g id="mood" class="n" transform="translate(450.5 3268)"><rect x="-64.5" y="-12" width="129" height="24" rx="6"/><text y="4">MOOD DISORDERS</text></g>
<g id="prot" class="n" transform="translate(464 3352.5)"><rect x="-54" y="-28.5" width="108" height="57" rx="6"/><text><tspan x="0" y="-10">Protracted</tspan><tspan x="0" y="4">time course for</tspan><tspan x="0" y="18">positive results</tspan></text></g>
<g id="tryp" class="n" transform="translate(633 3336)"><rect x="-38" y="-14" width="76" height="28" rx="6"/><text y="4">Trytophan</text></g>
<g id="cat" class="n" transform="translate(824 3348)"><rect x="-42" y="-21" width="84" height="42" rx="6"/><text><tspan x="0" y="-3">catabolism/</tspan><tspan x="0" y="11">re-uptake</tspan></text></g>
<g id="nora" class="n" transform="translate(1045.5 3106.5)"><rect x="-58.5" y="-20.5" width="117" height="41" rx="6"/><text><tspan x="0" y="-3">Noradrenaline</tspan><tspan x="0" y="11">(Norepinephrine)</tspan></text></g>
<g id="met" class="n" transform="translate(1111.5 3246.5)"><rect x="-45.5" y="-20.5" width="91" height="41" rx="6"/><text><tspan x="0" y="-3">metabolizing</tspan><tspan x="0" y="11">enzyme</tspan></text></g>
<g id="r5ht" class="n" transform="translate(1275 3306.5)"><rect x="-34" y="-19.5" width="68" height="39" rx="6"/><text><tspan x="0" y="-3">Receptor</tspan><tspan x="0" y="11">5-HT1A</tspan></text></g>
<g id="mao" class="n" transform="translate(1059.5 3381.5)"><rect x="-48.5" y="-19.5" width="97" height="39" rx="6"/><text><tspan x="0" y="-3">monoammine</tspan><tspan x="0" y="11">oxidase</tspan></text></g>
<g id="bdev" class="n" transform="translate(1445.5 3200)"><rect x="-52.5" y="-20" width="105" height="40" rx="6"/><text><tspan x="0" y="-3">BRAIN</tspan><tspan x="0" y="11">DEVELOPMENT</tspan></text></g>
<g id="epd" class="n" transform="translate(1463.5 3384)"><rect x="-47.5" y="-29" width="95" height="58" rx="6"/><text><tspan x="0" y="-10">Early</tspan><tspan x="0" y="4">Postnatal</tspan><tspan x="0" y="18">Development</tspan></text></g>
<g id="piv" class="n" transform="translate(1623 3242.5)"><rect x="-41" y="-13.5" width="82" height="27" rx="6"/><text y="4">pivotal role</text></g>
<g id="neur" class="n" transform="translate(1710 2682)"><rect x="-37" y="-12" width="74" height="24" rx="6"/><text y="4">NEURONS</text></g>
<g id="info" class="n" transform="translate(1408 2706.5)"><rect x="-43" y="-12.5" width="86" height="25" rx="6"/><text y="4">information</text></g>
<g id="chm" class="n" transform="translate(1182 2660)"><rect x="-37" y="-13" width="74" height="26" rx="6"/><text y="4">chemicals</text></g>
<g id="cns" class="n" transform="translate(1588.5 2471.5)"><rect x="-20.5" y="-12.5" width="41" height="25" rx="6"/><text y="4">CNS</text></g>
<g id="netw" class="n" transform="translate(1954.5 2347.5)"><rect x="-42.5" y="-12.5" width="85" height="25" rx="6"/><text y="4">NETWORKS</text></g>
<g id="ipr2" class="n" transform="translate(1781.5 2319.5)"><rect x="-43.5" y="-20.5" width="87" height="41" rx="6"/><text><tspan x="0" y="-3">Information</tspan><tspan x="0" y="11">Processing</tspan></text></g>
<g id="nnet" class="n" transform="translate(1499.5 2314.5)"><rect x="-46.5" y="-35.5" width="93" height="71" rx="6"/><text><tspan x="0" y="-17">Neural</tspan><tspan x="0" y="-3">Networks -</tspan><tspan x="0" y="11">The Network</tspan><tspan x="0" y="25">Hypothesis</tspan></text></g>
<g id="adc" class="n" transform="translate(1272.5 2285.5)"><rect x="-30.5" y="-19.5" width="61" height="39" rx="6"/><text><tspan x="0" y="-3">Adrenal</tspan><tspan x="0" y="11">Cortex</tspan></text></g>
<g id="kid" class="n" transform="translate(1278 2411)"><rect x="-32" y="-13" width="64" height="26" rx="6"/><text y="4">kidneys.</text></g>
<g id="eat" class="n" transform="translate(1887.5 2761)"><rect x="-72.5" y="-21" width="145" height="42" rx="6"/><text><tspan x="0" y="-3">EARLY antidepressant</tspan><tspan x="0" y="11">Treatment (animals)</tspan></text></g>
<g id="spr" class="n y" transform="translate(2410 2277.5)"><rect x="-36" y="-13.5" width="72" height="27" rx="6"/><text y="4">sprouting</text></g>
<g id="turn" class="n y" transform="translate(2419.5 2397)"><rect x="-34.5" y="-12" width="69" height="24" rx="6"/><text y="4">Turnover</text></g>
<g id="nn" class="n y" transform="translate(2584 2304.5)"><rect x="-52" y="-20.5" width="104" height="41" rx="6"/><text><tspan x="0" y="-3">New neurons</tspan><tspan x="0" y="11">(neurogenesis)</tspan></text></g>
<g id="dg" class="n" transform="translate(2491 2496.5)"><rect x="-32" y="-20.5" width="64" height="41" rx="6"/><text><tspan x="0" y="-3">Dentate</tspan><tspan x="0" y="11">Gyrus</tspan></text></g>
<g id="den" class="n" transform="translate(2273.5 2525)"><rect x="-35.5" y="-12" width="71" height="24" rx="6"/><text y="4">dendrites</text></g>
<g id="axo" class="n" transform="translate(2364 2534)"><rect x="-25" y="-11" width="50" height="22" rx="6"/><text y="4">axons</text></g>
<g id="syn" class="n" transform="translate(2248 2752.5)"><rect x="-33" y="-19.5" width="66" height="39" rx="6"/><text><tspan x="0" y="-3">synaptic</tspan><tspan x="0" y="11">contacts</tspan></text></g>
<g id="dpns" class="n" transform="translate(2917 2525)"><rect x="-64" y="-28" width="128" height="56" rx="6"/><text><tspan x="0" y="-10">Development of</tspan><tspan x="0" y="4">peripheral nervous</tspan><tspan x="0" y="18">system</tspan></text></g>
<g id="cb3" class="n r" transform="translate(2931.5 2664.5)"><rect x="-55.5" y="-19.5" width="111" height="39" rx="6"/><text><tspan x="0" y="-3">Castren, 2005 -</tspan><tspan x="0" y="11">Box 3</tspan></text></g>
<g id="incp" class="n" transform="translate(2723 2617.5)"><rect x="-39" y="-20.5" width="78" height="41" rx="6"/><text><tspan x="0" y="-3">Increased</tspan><tspan x="0" y="11">production</tspan></text></g>
<g id="beh" class="n" transform="translate(2818.5 2771)"><rect x="-38.5" y="-20" width="77" height="40" rx="6"/><text><tspan x="0" y="-3">Behavioral</tspan><tspan x="0" y="11">Effects</tspan></text></g>
<g id="lmat" class="n" transform="translate(2574 2784.5)"><rect x="-57" y="-20.5" width="114" height="41" rx="6"/><text><tspan x="0" y="-3">Long Maturation</tspan><tspan x="0" y="11">(weeks)</tspan></text></g>
<g id="bdnf" class="n y" transform="translate(2187.5 3201)"><rect x="-54.5" y="-35" width="109" height="70" rx="6"/><text><tspan x="0" y="-17">Brain-derived</tspan><tspan x="0" y="-3">neurotrophic</tspan><tspan x="0" y="11">factor PROTEIN</tspan><tspan x="0" y="25">(BDNF)</tspan></text></g>
<g id="sme" class="n" transform="translate(70.5 3470.5)"><rect x="-69.5" y="-27.5" width="139" height="55" rx="6"/><text><tspan x="0" y="-10">Single most</tspan><tspan x="0" y="4">expensive disorder</tspan><tspan x="0" y="18">in Western societies!</tspan></text></g>
<g id="spd" class="n" transform="translate(418 3491)"><rect x="-42" y="-27" width="84" height="54" rx="6"/><text><tspan x="0" y="-10">speedy</tspan><tspan x="0" y="4">metabolism</tspan><tspan x="0" y="18">effects</tspan></text></g>
<g id="mood2" class="n" transform="translate(629 3488.5)"><rect x="-23" y="-12.5" width="46" height="25" rx="6"/><text y="4">Mood</text></g>
<g id="nerv" class="n" transform="translate(822 3466)"><rect x="-31" y="-19" width="62" height="38" rx="6"/><text><tspan x="0" y="-3">nerve</tspan><tspan x="0" y="11">endings</tspan></text></g>
<g id="lte" class="n" transform="translate(539 3619.5)"><rect x="-58" y="-27.5" width="116" height="55" rx="6"/><text><tspan x="0" y="-10">Long term</tspan><tspan x="0" y="4">effects of</tspan><tspan x="0" y="18">anti-depressants</tspan></text></g>
<g id="cnp" class="n" transform="translate(342.5 3712.5)"><rect x="-59.5" y="-20.5" width="119" height="41" rx="6"/><text><tspan x="0" y="-3">concentrations of</tspan><tspan x="0" y="11">neuropeptides</tspan></text></g>
<g id="ics" class="n" transform="translate(530.5 3787.5)"><rect x="-42.5" y="-20.5" width="85" height="41" rx="6"/><text><tspan x="0" y="-3">intracellular</tspan><tspan x="0" y="11">signaling</tspan></text></g>
<g id="molh" class="n" transform="translate(529.5 3926.5)"><rect x="-39.5" y="-20.5" width="79" height="41" rx="6"/><text><tspan x="0" y="-3">molecular</tspan><tspan x="0" y="11">hypothesis</tspan></text></g>
<g id="dna" class="n r" transform="translate(277.5 3913.5)"><rect x="-40.5" y="-27.5" width="81" height="55" rx="6"/><text><tspan x="0" y="-10">DNA</tspan><tspan x="0" y="4">microarray</tspan><tspan x="0" y="18">techniques</tspan></text></g>
<g id="nad" class="n" transform="translate(87 3904)"><rect x="-53" y="-28" width="106" height="56" rx="6"/><text><tspan x="0" y="-10">New</tspan><tspan x="0" y="4">Antidepressant</tspan><tspan x="0" y="18">drugs</tspan></text></g>
<g id="upg" class="n" transform="translate(176.5 4066)"><rect x="-35.5" y="-27" width="71" height="54" rx="6"/><text><tspan x="0" y="-10">up-</tspan><tspan x="0" y="4">regulated</tspan><tspan x="0" y="18">genes</tspan></text></g>
<g id="dng" class="n" transform="translate(270.5 4067)"><rect x="-35.5" y="-28" width="71" height="56" rx="6"/><text><tspan x="0" y="-10">down-</tspan><tspan x="0" y="4">regulated</tspan><tspan x="0" y="18">genes</tspan></text></g>
<g id="sab" class="n w" transform="translate(795 3994.5)"><rect x="-48" y="-19.5" width="96" height="39" rx="6"/><text><tspan x="0" y="-3">Serotinergic</tspan><tspan x="0" y="11">abnormalities</tspan></text></g>
<g id="mice" class="n w" transform="translate(609.5 4097.5)"><rect x="-20.5" y="-11.5" width="41" height="23" rx="6"/><text y="4">Mice</text></g>
<g id="gfm" class="n r" transform="translate(960.5 4342.5)"><rect x="-61.5" y="-26.5" width="123" height="53" rx="6"/><text><tspan x="0" y="-10">GENE</tspan><tspan x="0" y="4">FINDING</tspan><tspan x="0" y="18">METHODOLOGIES</tspan></text></g>
<g id="tha" class="n" transform="translate(1014.5 3676)"><rect x="-68.5" y="-28" width="137" height="56" rx="6"/><text><tspan x="0" y="-10">THALAMOCORTICAL</tspan><tspan x="0" y="4">Organization</tspan><tspan x="0" y="18">Disruption</tspan></text></g>
<g id="mao2" class="n" transform="translate(1104 3489.5)"><rect x="-54" y="-12.5" width="108" height="25" rx="6"/><text y="4">Mon.-oxidase A</text></g>
<g id="anx2" class="n" transform="translate(1194 3683)"><rect x="-30" y="-13" width="60" height="26" rx="6"/><text y="4">anxiety</text></g>
<g id="humn" class="n" transform="translate(1055.5 3808.5)"><rect x="-32.5" y="-11.5" width="65" height="23" rx="6"/><text y="4">humans</text></g>
<g id="adm" class="n" transform="translate(1206.5 3803)"><rect x="-39.5" y="-12" width="79" height="24" rx="6"/><text y="4">adult mice</text></g>
<g id="atb" class="n" transform="translate(1282.5 3499)"><rect x="-45.5" y="-19" width="91" height="38" rx="6"/><text><tspan x="0" y="-3">anxiety-type</tspan><tspan x="0" y="11">behavior</tspan></text></g>
<g id="pres" class="n" transform="translate(1537.5 3499)"><rect x="-45.5" y="-14" width="91" height="28" rx="6"/><text y="4">Prescriptions</text></g>
<g id="preg" class="n" transform="translate(1477.5 3604)"><rect x="-61.5" y="-13" width="123" height="26" rx="6"/><text y="4">pregnant mothers</text></g>
<g id="chi" class="n" transform="translate(1597.5 3608)"><rect x="-31.5" y="-12" width="63" height="24" rx="6"/><text y="4">children</text></g>
<g id="bdg" class="n y" transform="translate(1158 4116.5)"><rect x="-41" y="-13.5" width="82" height="27" rx="6"/><text y="4">BDNF gene</text></g>
<g id="htt" class="n w" transform="translate(1568.5 4116)"><rect x="-36.5" y="-12" width="73" height="24" rx="6"/><text y="4">5-HTTLPR</text></g>
<g id="envr" class="n w" transform="translate(1360.5 4307)"><rect x="-52.5" y="-13" width="105" height="26" rx="6"/><text y="4">ENVIRONMENT</text></g>
<g id="kau" class="n w" transform="translate(1354.5 4475)"><rect x="-40.5" y="-20" width="81" height="40" rx="6"/><text><tspan x="0" y="-3">Kaufman</tspan><tspan x="0" y="11">et al. 2006</tspan></text></g>
<g id="inj" class="n" transform="translate(2001.5 3394.5)"><rect x="-39.5" y="-13.5" width="79" height="27" rx="6"/><text y="4">Injections</text></g>
<g id="noe" class="n" transform="translate(1912 3752)"><rect x="-41" y="-12" width="82" height="24" rx="6"/><text y="4">NO EFFECT</text></g>
<g id="bsig" class="n" transform="translate(1930.5 3851.5)"><rect x="-52.5" y="-13.5" width="105" height="27" rx="6"/><text y="4">BDNF signaling</text></g>
<g id="ect2" class="n" transform="translate(1998.5 3595)"><rect x="-23.5" y="-12" width="47" height="24" rx="6"/><text y="4">ECT</text></g>
<g id="nts" class="n" transform="translate(2167.5 3466)"><rect x="-46.5" y="-21" width="93" height="42" rx="6"/><text><tspan x="0" y="-3">neurotrophin</tspan><tspan x="0" y="11">signaling</tspan></text></g>
<g id="ad3" class="n" transform="translate(2096 3593.5)"><rect x="-66" y="-13.5" width="132" height="27" rx="6"/><text y="4">antidepressants (3)</text></g>
<g id="imp" class="n" transform="translate(2262.5 3715.5)"><rect x="-42.5" y="-13.5" width="85" height="27" rx="6"/><text y="4">Importance</text></g>
<g id="act" class="n" transform="translate(2214 3874.5)"><rect x="-43" y="-19.5" width="86" height="39" rx="6"/><text><tspan x="0" y="-3">Activity</tspan><tspan x="0" y="11">MEDIATION</tspan></text></g>
<g id="raw" class="n" transform="translate(2337 3881.5)"><rect x="-52" y="-18.5" width="104" height="37" rx="6"/><text><tspan x="0" y="-3">raw</tspan><tspan x="0" y="11">concentrations</tspan></text></g>
</g>
<g id="labels">
<g class="l" transform="translate(1082 115)"><rect x="-30" y="-15" width="60" height="30"/><text><tspan x="0" y="-3">affected</tspan><tspan x="0" y="11">by</tspan></text></g>
<g class="l" transform="translate(1185 111)"><rect x="-26" y="-8" width="52" height="16"/><text y="4">affects</text></g>
<g class="l" transform="translate(1121 222)"><rect x="-38" y="-8" width="76" height="16"/><text y="4">consists of</text></g>
<g class="l" transform="translate(1155 349)"><rect x="-32" y="-8" width="64" height="16"/><text y="4">including</text></g>
<g class="l" transform="translate(2217 343)"><rect x="-23" y="-8" width="46" height="16"/><text y="4">can be</text></g>
<g class="l" transform="translate(2299 466)"><rect x="-23" y="-8" width="46" height="16"/><text y="4">can be</text></g>
<g class="l" transform="translate(1097 681)"><rect x="-37" y="-8" width="74" height="16"/><text y="4">determines</text></g>
<g class="l" transform="translate(1242 758)"><rect x="-39" y="-15" width="78" height="30"/><text><tspan x="0" y="-3">predicts</tspan><tspan x="0" y="11">response to</tspan></text></g>
<g class="l" transform="translate(1395 829)"><rect x="-25" y="-8" width="50" height="16"/><text y="4">namely</text></g>
<g class="l" transform="translate(1331 939)"><rect x="-14" y="-8" width="28" height="16"/><text y="4">see</text></g>
<g class="l" transform="translate(1508 950)"><rect x="-8" y="-8" width="16" height="16"/><text y="4">is</text></g>
<g class="l" transform="translate(1066 864)"><rect x="-33" y="-15" width="66" height="30"/><text><tspan x="0" y="-3">can be</tspan><tspan x="0" y="11">viewed as</tspan></text></g>
<g class="l" transform="translate(1165 901)"><rect x="-39" y="-22" width="78" height="44"/><text><tspan x="0" y="-10">show</tspan><tspan x="0" y="4">superior</tspan><tspan x="0" y="18">response to</tspan></text></g>
<g class="l" transform="translate(1076 953)"><rect x="-16" y="-8" width="32" height="16"/><text y="4">into</text></g>
<g class="l" transform="translate(1073 1085)"><rect x="-31" y="-15" width="62" height="30"/><text><tspan x="0" y="-3">show</tspan><tspan x="0" y="11">different</tspan></text></g>
<g class="l" transform="translate(1195 1124)"><rect x="-42" y="-22" width="84" height="44"/><text><tspan x="0" y="-10">may be</tspan><tspan x="0" y="4">predicted by</tspan><tspan x="0" y="18">prior (!!)</tspan></text></g>
<g class="l" transform="translate(1312 1096)"><rect x="-51" y="-15" width="102" height="30"/><text><tspan x="0" y="-3">only marginally</tspan><tspan x="0" y="11">better on</tspan></text></g>
<g class="l" transform="translate(1619 994)"><rect x="-47" y="-8" width="94" height="16"/><text y="4">contributes to</text></g>
<g class="l" transform="translate(1891 666)"><rect x="-35" y="-8" width="70" height="16"/><text y="4">studied in</text></g>
<g class="l" transform="translate(1920 970)"><rect x="-32" y="-8" width="64" height="16"/><text y="4">including</text></g>
<g class="l" transform="translate(1935 1067)"><rect x="-7" y="-8" width="14" height="16"/><text y="4">if</text></g>
<g class="l" transform="translate(1866 1175)"><rect x="-30" y="-15" width="60" height="30"/><text><tspan x="0" y="-3">show</tspan><tspan x="0" y="11">elevated</tspan></text></g>
<g class="l" transform="translate(1934 1188)"><rect x="-15" y="-8" width="30" height="16"/><text y="4">e.g.</text></g>
<g class="l" transform="translate(1004 782)"><rect x="-40" y="-15" width="80" height="30"/><text><tspan x="0" y="-3">may be</tspan><tspan x="0" y="11">important to</tspan></text></g>
<g class="l" transform="translate(847 915)"><rect x="-41" y="-15" width="82" height="30"/><text><tspan x="0" y="-3">also need to</tspan><tspan x="0" y="11">subclassify</tspan></text></g>
<g class="l" transform="translate(929 1034)"><rect x="-45" y="-15" width="90" height="30"/><text><tspan x="0" y="-3">therefore may</tspan><tspan x="0" y="11">affect</tspan></text></g>
<g class="l" transform="translate(2385 1050)"><rect x="-20" y="-8" width="40" height="16"/><text y="4">using</text></g>
<g class="l" transform="translate(2360 1204)"><rect x="-15" y="-7" width="30" height="14"/><text y="4">e.g.</text></g>
<g class="l" transform="translate(2672 1282)"><rect x="-36" y="-15" width="72" height="30"/><text><tspan x="0" y="-3">reveal</tspan><tspan x="0" y="11">changes in</tspan></text></g>
<g class="ly" transform="translate(2215 1257)"><rect x="-61" y="-14" width="122" height="28"/><text><tspan x="0" y="-3">dexamethasone</tspan><tspan x="0" y="11">markers of MDD are</tspan></text></g>
<g class="l" transform="translate(2149 1322)"><rect x="-40" y="-15" width="80" height="30"/><text><tspan x="0" y="-3">principal</tspan><tspan x="0" y="11">regulator of</tspan></text></g>
<g class="l" transform="translate(2113 1418)"><rect x="-34" y="-8" width="68" height="16"/><text y="4">decreases</text></g>
<g class="l" transform="translate(2283 1402)"><rect x="-49" y="-22" width="98" height="44"/><text><tspan x="0" y="-10">show</tspan><tspan x="0" y="4">decreased</tspan><tspan x="0" y="18">responsiveness</tspan></text></g>
<g class="l" transform="translate(2406 1388)"><rect x="-44" y="-8" width="88" height="16"/><text y="4">are increased</text></g>
<g class="l" transform="translate(2506 1394)"><rect x="-38" y="-8" width="76" height="16"/><text y="4">are blunted</text></g>
<g class="l" transform="translate(2201 1413)"><rect x="-9" y="-8" width="18" height="16"/><text y="4">of</text></g>
<g class="l" transform="translate(2528 1459)"><rect x="-37" y="-8" width="74" height="16"/><text y="4">may reflect</text></g>
<g class="l" transform="translate(2495 1550)"><rect x="-9" y="-8" width="18" height="16"/><text y="4">of</text></g>
<g class="l" transform="translate(2369 1613)"><rect x="-43" y="-15" width="86" height="30"/><text><tspan x="0" y="-3">counter-</tspan><tspan x="0" y="11">regulation of</tspan></text></g>
<g class="l" transform="translate(2143 1560)"><rect x="-55" y="-15" width="110" height="30"/><text><tspan x="0" y="-3">may be explained</tspan><tspan x="0" y="11">by sustained</tspan></text></g>
<g class="l" transform="translate(2025 1590)"><rect x="-33" y="-15" width="66" height="30"/><text><tspan x="0" y="-3">decreased</tspan><tspan x="0" y="11">in</tspan></text></g>
<g class="l" transform="translate(2020 1874)"><rect x="-62" y="-15" width="124" height="30"/><text><tspan x="0" y="-3">has correlated with</tspan><tspan x="0" y="11">reductions in</tspan></text></g>
<g class="l" transform="translate(2341 1905)"><rect x="-8" y="-8" width="16" height="16"/><text y="4">in</text></g>
<g class="l" transform="translate(2611 1983)"><rect x="-31" y="-15" width="62" height="30"/><text><tspan x="0" y="-3">suggests</tspan><tspan x="0" y="11">reduced</tspan></text></g>
<g class="l" transform="translate(2575 2068)"><rect x="-26" y="-8" width="52" height="16"/><text y="4">include</text></g>
<g class="l" transform="translate(2056 2007)"><rect x="-26" y="-8" width="52" height="16"/><text y="4">such as</text></g>
<g class="l" transform="translate(2231 2081)"><rect x="-35" y="-15" width="70" height="30"/><text><tspan x="0" y="-3">constantly</tspan><tspan x="0" y="11">refine</tspan></text></g>
<g class="l" transform="translate(2026 2199)"><rect x="-8" y="-8" width="16" height="16"/><text y="4">in</text></g>
<g class="l" transform="translate(1966 2158)"><rect x="-51" y="-8" width="102" height="16"/><text y="4">develop through</text></g>
<g class="ly" transform="translate(2088 2263)"><rect x="-28" y="-21" width="56" height="42"/><text><tspan x="0" y="-10">reverse</tspan><tspan x="0" y="4">(to some</tspan><tspan x="0" y="18">degree)</tspan></text></g>
<g class="l" transform="translate(1488 1233)"><rect x="-41" y="-15" width="82" height="30"/><text><tspan x="0" y="-3">is one</tspan><tspan x="0" y="11">technique of</tspan></text></g>
<g class="ly" transform="translate(1351 1388)"><rect x="-22" y="-14" width="44" height="28"/><text><tspan x="0" y="-3">has</tspan><tspan x="0" y="11">caused</tspan></text></g>
<g class="l" transform="translate(1424 1489)"><rect x="-15" y="-8" width="30" height="16"/><text y="4">e.g.</text></g>
<g class="l" transform="translate(1198 1476)"><rect x="-30" y="-8" width="60" height="16"/><text y="4">includes</text></g>
<g class="ly" transform="translate(1035 1614)"><rect x="-21" y="-7.5" width="42" height="15"/><text y="4">inhibit</text></g>
<g class="ly" transform="translate(1333 1646)"><rect x="-45" y="-7.5" width="90" height="15"/><text y="4">correlates with</text></g>
<g class="l" transform="translate(1682 1672)"><rect x="-30" y="-8" width="60" height="16"/><text y="4">includes</text></g>
<g class="l" transform="translate(1523 1582)"><rect x="-8" y="-8" width="16" height="16"/><text y="4">in</text></g>
<g class="l" transform="translate(1533 1735)"><rect x="-32" y="-8" width="64" height="16"/><text y="4">including</text></g>
<g class="l" transform="translate(1847 1436)"><rect x="-15" y="-8" width="30" height="16"/><text y="4">e.g.</text></g>
<g class="l" transform="translate(1852 1625)"><rect x="-8" y="-8" width="16" height="16"/><text y="4">in</text></g>
<g class="ly" transform="translate(1273 1714)"><rect x="-26" y="-7.5" width="52" height="15"/><text y="4">contains</text></g>
<g class="l" transform="translate(1107 1725)"><rect x="-32" y="-8" width="64" height="16"/><text y="4">stimulate</text></g>
<g class="l" transform="translate(1143 1878)"><rect x="-34" y="-8" width="68" height="16"/><text y="4">simulates</text></g>
<g class="l" transform="translate(1380 1869)"><rect x="-29" y="-8" width="58" height="16"/><text y="4">controls</text></g>
<g class="l" transform="translate(1325 1927)"><rect x="-34" y="-15" width="68" height="30"/><text><tspan x="0" y="-3">adversely</tspan><tspan x="0" y="11">effects</tspan></text></g>
<g class="l" transform="translate(1254 1979)"><rect x="-30" y="-8" width="60" height="16"/><text y="4">regulate</text></g>
<g class="l" transform="translate(1478 1997)"><rect x="-28" y="-8" width="56" height="16"/><text y="4">reduces</text></g>
<g class="l" transform="translate(1067 2020)"><rect x="-7" y="-8" width="14" height="16"/><text y="4">if</text></g>
<g class="l" transform="translate(1345 2147)"><rect x="-34" y="-15" width="68" height="30"/><text><tspan x="0" y="-3">where</tspan><tspan x="0" y="11">sustained</tspan></text></g>
<g class="l" transform="translate(1175 2158)"><rect x="-37" y="-15" width="74" height="30"/><text><tspan x="0" y="-3">stimulates</tspan><tspan x="0" y="11">release of</tspan></text></g>
<g class="l" transform="translate(1284 2178)"><rect x="-18" y="-8" width="36" height="16"/><text y="4">from</text></g>
<g class="l" transform="translate(1503 2230)"><rect x="-36" y="-8" width="72" height="16"/><text y="4">focuses on</text></g>
<g class="l" transform="translate(1847 2081)"><rect x="-53" y="-22" width="106" height="44"/><text><tspan x="0" y="-10">REVERSES</tspan><tspan x="0" y="4">OR HALTS</tspan><tspan x="0" y="18">SHRINKAGE OF</tspan></text></g>
<g class="l" transform="translate(486 1344)"><rect x="-46" y="-15" width="92" height="30"/><text><tspan x="0" y="-3">can be</tspan><tspan x="0" y="11">ameliorated by</tspan></text></g>
<g class="l" transform="translate(645 1667)"><rect x="-51" y="-15" width="102" height="30"/><text><tspan x="0" y="-3">can reverse</tspan><tspan x="0" y="11">hyperactivity in</tspan></text></g>
<g class="l" transform="translate(862 1497)"><rect x="-36" y="-8" width="72" height="16"/><text y="4">throughout</text></g>
<g class="l" transform="translate(963 1519)"><rect x="-37" y="-8" width="74" height="16"/><text y="4">manifest in</text></g>
<g class="l" transform="translate(989 1733)"><rect x="-39" y="-8" width="78" height="16"/><text y="4">responds to</text></g>
<g class="l" transform="translate(892 1789)"><rect x="-37" y="-8" width="74" height="16"/><text y="4">relevant to</text></g>
<g class="l" transform="translate(978 1832)"><rect x="-24" y="-8" width="48" height="16"/><text y="4">causes</text></g>
<g class="l" transform="translate(904 1857)"><rect x="-8" y="-8" width="16" height="16"/><text y="4">in</text></g>
<g class="l" transform="translate(783 1878)"><rect x="-28" y="-8" width="56" height="16"/><text y="4">perform</text></g>
<g class="l" transform="translate(989 1946)"><rect x="-35" y="-8" width="70" height="16"/><text y="4">to secrete</text></g>
<g class="l" transform="translate(911 1964)"><rect x="-26" y="-8" width="52" height="16"/><text y="4">control</text></g>
<g class="l" transform="translate(788 2068)"><rect x="-46" y="-15" width="92" height="30"/><text><tspan x="0" y="-3">modulate</tspan><tspan x="0" y="11">(feed forward)</tspan></text></g>
<g class="l" transform="translate(939 2098)"><rect x="-43" y="-15" width="86" height="30"/><text><tspan x="0" y="-3">stimulates</tspan><tspan x="0" y="11">production of</tspan></text></g>
<g class="l" transform="translate(1020 2101)"><rect x="-37" y="-15" width="74" height="30"/><text><tspan x="0" y="-3">stimulates</tspan><tspan x="0" y="11">release of</tspan></text></g>
<g class="l" transform="translate(985 2210)"><rect x="-44" y="-8" width="88" height="16"/><text y="4">from anterior</text></g>
<g class="l" transform="translate(635 2209)"><rect x="-28" y="-8" width="56" height="16"/><text y="4">inhibits</text></g>
<g class="l" transform="translate(728 2230)"><rect x="-25" y="-8" width="50" height="16"/><text y="4">linking</text></g>
<g class="l" transform="translate(218 1850)"><rect x="-41" y="-8" width="82" height="16"/><text y="4">can increase</text></g>
<g class="l" transform="translate(336 1837)"><rect x="-27" y="-15" width="54" height="30"/><text><tspan x="0" y="-3">can</tspan><tspan x="0" y="11">enhance</tspan></text></g>
<g class="l" transform="translate(473 1834)"><rect x="-31" y="-8" width="62" height="16"/><text y="4">mediates</text></g>
<g class="l" transform="translate(918 2490)"><rect x="-22" y="-8" width="44" height="16"/><text y="4">map is</text></g>
<g class="l" transform="translate(1091 2558)"><rect x="-45" y="-15" width="90" height="30"/><text><tspan x="0" y="-3">is a</tspan><tspan x="0" y="11">malfunction of</tspan></text></g>
<g class="l" transform="translate(662 2685)"><rect x="-44" y="-8" width="88" height="16"/><text y="4">observed with</text></g>
<g class="l" transform="translate(438 2660)"><rect x="-13" y="-8" width="26" height="16"/><text y="4">are</text></g>
<g class="l" transform="translate(976 2697)"><rect x="-36" y="-15" width="72" height="30"/><text><tspan x="0" y="-3">caused by</tspan><tspan x="0" y="11">changes in</tspan></text></g>
<g class="l" transform="translate(1081 2904)"><rect x="-8" y="-8" width="16" height="16"/><text y="4">in</text></g>
<g class="l" transform="translate(360 2820)"><rect x="-41" y="-8" width="82" height="16"/><text y="4">developed in</text></g>
<g class="l" transform="translate(721 2812)"><rect x="-52" y="-22" width="104" height="44"/><text><tspan x="0" y="-10">increase</tspan><tspan x="0" y="4">extracellular</tspan><tspan x="0" y="18">concentration of</tspan></text></g>
<g class="l" transform="translate(122 2948)"><rect x="-15" y="-8" width="30" height="16"/><text y="4">e.g.</text></g>
<g class="l" transform="translate(340 2934)"><rect x="-14" y="-8" width="28" height="16"/><text y="4">see</text></g>
<g class="l" transform="translate(62 3091)"><rect x="-39" y="-8" width="78" height="16"/><text y="4">originally a</text></g>
<g class="l" transform="translate(153 3064)"><rect x="-43" y="-8" width="86" height="16"/><text y="4">originally an</text></g>
<g class="l" transform="translate(483 3028)"><rect x="-22" y="-8" width="44" height="16"/><text y="4">led to</text></g>
<g class="l" transform="translate(643 3098)"><rect x="-43" y="-22" width="86" height="44"/><text><tspan x="0" y="-10">are caused</tspan><tspan x="0" y="4">by a</tspan><tspan x="0" y="18">deficiency of</tspan></text></g>
<g class="l" transform="translate(860 3016)"><rect x="-25" y="-8" width="50" height="16"/><text y="4">namely</text></g>
<g class="l" transform="translate(408 3167)"><rect x="-53" y="-8" width="106" height="16"/><text y="4">which states that</text></g>
<g class="l" transform="translate(143 3218)"><rect x="-40" y="-15" width="80" height="30"/><text><tspan x="0" y="-3">development</tspan><tspan x="0" y="11">delayed</tspan></text></g>
<g class="l" transform="translate(576 3274)"><rect x="-29" y="-15" width="58" height="30"/><text><tspan x="0" y="-3">disputed</tspan><tspan x="0" y="11">by</tspan></text></g>
<g class="l" transform="translate(694 3215)"><rect x="-52" y="-15" width="104" height="30"/><text><tspan x="0" y="-3">decreases</tspan><tspan x="0" y="11">concentration of</tspan></text></g>
<g class="l" transform="translate(820 3266)"><rect x="-22" y="-8" width="44" height="16"/><text y="4">whose</text></g>
<g class="l" transform="translate(913 3215)"><rect x="-40" y="-8" width="80" height="16"/><text y="4">inhibited by</text></g>
<g class="l" transform="translate(281 3325)"><rect x="-28" y="-8" width="56" height="16"/><text y="4">produce</text></g>
<g class="l" transform="translate(1173 3051)"><rect x="-41" y="-15" width="82" height="30"/><text><tspan x="0" y="-3">particularly</tspan><tspan x="0" y="11">affected by</tspan></text></g>
<g class="ly" transform="translate(1672 2942)"><rect x="-45" y="-7.5" width="90" height="15"/><text y="4">correlates with</text></g>
<g class="l" transform="translate(1060 3192)"><rect x="-36" y="-8" width="72" height="16"/><text y="4">whose main</text></g>
<g class="l" transform="translate(1277 3238)"><rect x="-46" y="-15" width="92" height="30"/><text><tspan x="0" y="-3">where</tspan><tspan x="0" y="11">elimination of</tspan></text></g>
<g class="ly" transform="translate(1382 3307)"><rect x="-25" y="-7.5" width="50" height="15"/><text y="4">ONLY IN</text></g>
<g class="l" transform="translate(1271 3368)"><rect x="-24" y="-8" width="48" height="16"/><text y="4">causes</text></g>
<g class="l" transform="translate(1085 3314)"><rect x="-8" y="-8" width="16" height="16"/><text y="4">is</text></g>
<g class="l" transform="translate(1468 3283)"><rect x="-15" y="-8" width="30" height="16"/><text y="4">e.g.</text></g>
<g class="l" transform="translate(1604 3102)"><rect x="-26" y="-8" width="52" height="16"/><text y="4">impairs</text></g>
<g class="l" transform="translate(1679 3165)"><rect x="-31" y="-8" width="62" height="16"/><text y="4">indicates</text></g>
<g class="l" transform="translate(1577 3330)"><rect x="-8" y="-8" width="16" height="16"/><text y="4">in</text></g>
<g class="ly" transform="translate(1721 3365)"><rect x="-47" y="-14" width="94" height="28"/><text><tspan x="0" y="-3">has major</tspan><tspan x="0" y="11">implications for</tspan></text></g>
<g class="l" transform="translate(1640 2800)"><rect x="-36" y="-22" width="72" height="44"/><text><tspan x="0" y="-10">affect</tspan><tspan x="0" y="4">ADAPTIVE</tspan><tspan x="0" y="18">changes in</tspan></text></g>
<g class="l" transform="translate(1494 2616)"><rect x="-33" y="-22" width="66" height="44"/><text><tspan x="0" y="-10">which is</tspan><tspan x="0" y="4">processed</tspan><tspan x="0" y="18">by</tspan></text></g>
<g class="l" transform="translate(1597 2581)"><rect x="-37" y="-8" width="74" height="16"/><text y="4">emphasizes</text></g>
<g class="l" transform="translate(1303 2710)"><rect x="-24" y="-15" width="48" height="30"/><text><tspan x="0" y="-3">do not</tspan><tspan x="0" y="11">store</tspan></text></g>
<g class="l" transform="translate(1077 2641)"><rect x="-36" y="-8" width="72" height="16"/><text y="4">focuses on</text></g>
<g class="l" transform="translate(1418 2513)"><rect x="-31" y="-29" width="62" height="58"/><text><tspan x="0" y="-17">primary</tspan><tspan x="0" y="-3">function</tspan><tspan x="0" y="11">is NOT</tspan><tspan x="0" y="25">handling</tspan></text></g>
<g class="l" transform="translate(1515 2424)"><rect x="-37" y="-8" width="74" height="16"/><text y="4">recognizes</text></g>
<g class="l" transform="translate(1717 2584)"><rect x="-43" y="-22" width="86" height="44"/><text><tspan x="0" y="-10">primary</tspan><tspan x="0" y="4">function is</tspan><tspan x="0" y="18">to facilitate</tspan></text></g>
<g class="l" transform="translate(1788 2497)"><rect x="-27" y="-15" width="54" height="30"/><text><tspan x="0" y="-3">might</tspan><tspan x="0" y="11">improve</tspan></text></g>
<g class="l" transform="translate(1899 2505)"><rect x="-8" y="-8" width="16" height="16"/><text y="4">in</text></g>
<g class="l" transform="translate(1617 2310)"><rect x="-38" y="-15" width="76" height="30"/><text><tspan x="0" y="-3">reflects</tspan><tspan x="0" y="11">problems in</tspan></text></g>
<g class="l" transform="translate(1276 2350)"><rect x="-32" y="-15" width="64" height="30"/><text><tspan x="0" y="-3">located</tspan><tspan x="0" y="11">on top of</tspan></text></g>
<g class="l" transform="translate(1976 3124)"><rect x="-47" y="-22" width="94" height="44"/><text><tspan x="0" y="-10">increase</tspan><tspan x="0" y="4">expression</tspan><tspan x="0" y="18">&amp; signaling of</tspan></text></g>
<g class="lb" transform="translate(1996 2687)"><rect x="-30" y="-7.5" width="60" height="15"/><text y="4">critical to</text></g>
<g class="l" transform="translate(2074 2716)"><rect x="-34" y="-8" width="68" height="16"/><text y="4">LEADS TO</text></g>
<g class="l" transform="translate(2113 2315)"><rect x="-40" y="-8" width="80" height="16"/><text y="4">can enhance</text></g>
<g class="l" transform="translate(2128 2354)"><rect x="-32" y="-15" width="64" height="30"/><text><tspan x="0" y="-3">might</tspan><tspan x="0" y="11">stimulate</tspan></text></g>
<g class="l" transform="translate(2474 2445)"><rect x="-8" y="-8" width="16" height="16"/><text y="4">in</text></g>
<g class="l" transform="translate(2318 2476)"><rect x="-8" y="-8" width="16" height="16"/><text y="4">in</text></g>
<g class="l" transform="translate(2391 2465)"><rect x="-9" y="-8" width="18" height="16"/><text y="4">of</text></g>
<g class="l" transform="translate(2291 2628)"><rect x="-9" y="-8" width="18" height="16"/><text y="4">of</text></g>
<g class="l" transform="translate(2573 2558)"><rect x="-30" y="-8" width="60" height="16"/><text y="4">requires</text></g>
<g class="l" transform="translate(2677 2462)"><rect x="-9" y="-8" width="18" height="16"/><text y="4">of</text></g>
<g class="l" transform="translate(2896 2422)"><rect x="-42" y="-22" width="84" height="44"/><text><tspan x="0" y="-10">might be</tspan><tspan x="0" y="4">functionally</tspan><tspan x="0" y="18">analogous to</tspan></text></g>
<g class="l" transform="translate(2931 2599)"><rect x="-25" y="-8" width="50" height="16"/><text y="4">link to</text></g>
<g class="l" transform="translate(2734 2688)"><rect x="-35" y="-15" width="70" height="30"/><text><tspan x="0" y="-3">correlates</tspan><tspan x="0" y="11">with</tspan></text></g>
<g class="l" transform="translate(2206 2993)"><rect x="-34" y="-8" width="68" height="16"/><text y="4">stabilizes</text></g>
<g class="l" transform="translate(2053 3337)"><rect x="-9" y="-8" width="18" height="16"/><text y="4">of</text></g>
<g class="lb" transform="translate(2149 3367)"><rect x="-26" y="-7.5" width="52" height="15"/><text y="4">releases</text></g>
<g class="l" transform="translate(72 3381)"><rect x="-15" y="-8" width="30" height="16"/><text y="4">now</text></g>
<g class="l" transform="translate(457 3422)"><rect x="-27" y="-8" width="54" height="16"/><text y="4">despite</text></g>
<g class="l" transform="translate(547 3470)"><rect x="-30" y="-15" width="60" height="30"/><text><tspan x="0" y="-3">led to</tspan><tspan x="0" y="11">focus on</tspan></text></g>
<g class="l" transform="translate(633 3403)"><rect x="-30" y="-15" width="60" height="30"/><text><tspan x="0" y="-3">does not</tspan><tspan x="0" y="11">affect</tspan></text></g>
<g class="l" transform="translate(818 3404)"><rect x="-10" y="-8" width="20" height="16"/><text y="4">to</text></g>
<g class="l" transform="translate(448 3660)"><rect x="-9" y="-8" width="18" height="16"/><text y="4">of</text></g>
<g class="l" transform="translate(534 3703)"><rect x="-11" y="-8" width="22" height="16"/><text y="4">on</text></g>
<g class="l" transform="translate(444 3744)"><rect x="-11" y="-8" width="22" height="16"/><text y="4">on</text></g>
<g class="l" transform="translate(529 3858)"><rect x="-13" y="-8" width="26" height="16"/><text y="4">i.e.</text></g>
<g class="l" transform="translate(394 3923)"><rect x="-40" y="-8" width="80" height="16"/><text y="4">subscribe to</text></g>
<g class="l" transform="translate(178 3982)"><rect x="-23" y="-15" width="46" height="30"/><text><tspan x="0" y="-3">may</tspan><tspan x="0" y="11">target</tspan></text></g>
<g class="l" transform="translate(259 3997)"><rect x="-28" y="-8" width="56" height="16"/><text y="4">look for</text></g>
<g class="l" transform="translate(698 4036)"><rect x="-8" y="-8" width="16" height="16"/><text y="4">in</text></g>
<g class="l" transform="translate(984 4012)"><rect x="-32" y="-15" width="64" height="30"/><text><tspan x="0" y="-3">knockout</tspan><tspan x="0" y="11">produces</tspan></text></g>
<g class="l" transform="translate(1055 3447)"><rect x="-21" y="-8" width="42" height="16"/><text y="4">where</text></g>
<g class="l" transform="translate(1115 3530)"><rect x="-33" y="-15" width="66" height="30"/><text><tspan x="0" y="-3">mutations</tspan><tspan x="0" y="11">produce</tspan></text></g>
<g class="l" transform="translate(1117 3747)"><rect x="-8" y="-8" width="16" height="16"/><text y="4">in</text></g>
<g class="l" transform="translate(1257 3713)"><rect x="-8" y="-8" width="16" height="16"/><text y="4">in</text></g>
<g class="ly" transform="translate(1364 3424)"><rect x="-25" y="-7.5" width="50" height="15"/><text y="4">leads to</text></g>
<g class="l" transform="translate(1536 3551)"><rect x="-10" y="-8" width="20" height="16"/><text y="4">to</text></g>
<g class="l" transform="translate(1431 3872)"><rect x="-39" y="-8" width="78" height="16"/><text y="4">produced by</text></g>
<g class="l" transform="translate(1358 4211)"><rect x="-32" y="-15" width="64" height="30"/><text><tspan x="0" y="-3">interacts</tspan><tspan x="0" y="11">with</tspan></text></g>
<g class="l" transform="translate(1357 4391)"><rect x="-14" y="-8" width="28" height="16"/><text y="4">see</text></g>
<g class="l" transform="translate(1059 4228)"><rect x="-25" y="-8" width="50" height="16"/><text y="4">link to</text></g>
<g class="lb" transform="translate(1947 3663)"><rect x="-17" y="-7.5" width="34" height="15"/><text y="4">have</text></g>
<g class="lb" transform="translate(1920 3801)"><rect x="-42" y="-7.5" width="84" height="15"/><text y="4">in absence of</text></g>
<g class="lb" transform="translate(2096 3782)"><rect x="-16" y="-7.5" width="32" height="15"/><text y="4">thus</text></g>
<g class="lb" transform="translate(2051 3489)"><rect x="-28" y="-7.5" width="56" height="15"/><text y="4">replicate</text></g>
<g class="lb" transform="translate(2130 3529)"><rect x="-41" y="-7.5" width="82" height="15"/><text y="4">may activate</text></g>
<g class="lb" transform="translate(2262 3622)"><rect x="-21" y="-7.5" width="42" height="15"/><text y="4">whose</text></g>
<g class="lb" transform="translate(2241 3789)"><rect x="-7" y="-7.5" width="14" height="15"/><text y="4">is</text></g>
<g class="lb" transform="translate(2299 3798)"><rect x="-19" y="-7.5" width="38" height="15"/><text y="4">is not</text></g>
</g>
</g>
</svg>
